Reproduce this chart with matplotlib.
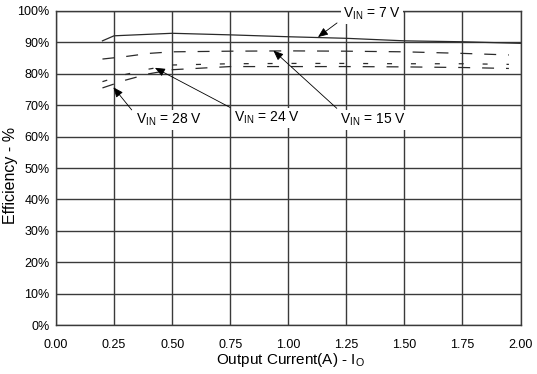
import matplotlib
matplotlib.use("Agg")
import matplotlib.pyplot as plt
from matplotlib.ticker import FuncFormatter

plt.rcParams['font.family'] = ['Liberation Sans', 'DejaVu Sans']
plt.rcParams['mathtext.fontset'] = 'custom'
plt.rcParams['mathtext.rm'] = 'Liberation Sans'
plt.rcParams['mathtext.it'] = 'Liberation Sans'
plt.rcParams['lines.scale_dashes'] = False

# efficiency curves (output current in A, efficiency in %)
i_7v = [0.20, 0.25, 0.50, 0.75, 1.00, 1.25, 1.50, 1.75, 2.00]
eff_7v = [90.5, 92.1, 92.9, 92.4, 91.8, 91.3, 90.5, 90.2, 89.7]

i_dash = [0.20, 0.30, 0.40, 0.50, 0.75, 1.00, 1.25, 1.50, 1.75, 1.95]
eff_15v = [84.7, 85.5, 86.5, 87.0, 87.2, 87.3, 87.2, 87.0, 86.5, 86.0]
eff_24v = [77.5, 79.8, 81.5, 82.8, 83.2, 83.3, 83.3, 83.2, 83.2, 83.0]
eff_28v = [75.5, 78.0, 80.0, 81.3, 82.3, 82.3, 82.3, 82.2, 82.0, 81.7]

x_ticks = [0.0, 0.25, 0.5, 0.75, 1.0, 1.25, 1.5, 1.75, 2.0]
y_ticks = [0, 10, 20, 30, 40, 50, 60, 70, 80, 90, 100]

fig = plt.figure(figsize=(5.37, 3.74), dpi=100)
ax = fig.add_axes([0.1043, 0.131, 0.865, 0.8396])

ax.plot(i_7v, eff_7v, color="#2a2a2a", lw=0.9)
ax.plot(i_dash, eff_15v, color="#2a2a2a", lw=0.9, dashes=(8.6, 8.6))
ax.plot(i_dash, eff_24v, color="#2a2a2a", lw=0.9, dashes=(3.6, 13.6))
ax.plot(i_dash, eff_28v, color="#2a2a2a", lw=0.9, dashes=(8.6, 8.6))

ax.set_xlim(0, 2)
ax.set_ylim(0, 100)
ax.set_xticks(x_ticks)
ax.set_yticks(y_ticks)
ax.xaxis.set_major_formatter(FuncFormatter(lambda v, p: "%.2f" % v))
ax.yaxis.set_major_formatter(FuncFormatter(lambda v, p: "%d%%" % v))
ax.tick_params(length=0, labelsize=9, colors="black")
ax.tick_params(axis="x", pad=10)
ax.tick_params(axis="y", pad=4.5)
ax.grid(True, color="#3a3a3a", lw=1.0)
for s in ax.spines.values():
    s.set_color("#3a3a3a")
    s.set_linewidth(1.0)

ax.set_xlabel("Output Current(A) - I$_\\mathrm{O}$", fontsize=11)
ax.set_ylabel("Efficiency - %", fontsize=11.5)
ax.yaxis.set_label_coords(-0.0818, 0.476)
ax.xaxis.set_label_coords(0.504, -0.083)

box = dict(facecolor="white", edgecolor="none", pad=1.5)
arrow = dict(arrowstyle="-|>,head_length=0.6,head_width=0.25", color="black",
             lw=0.6, shrinkA=0, shrinkB=0)

labels = [
    ("V$_\\mathrm{IN}$ = 7 V", (1.36, 99.0), (1.21, 96.2), (1.128, 91.7)),
    ("V$_\\mathrm{IN}$ = 28 V", (0.487, 65.3), (0.326, 68.5), (0.247, 75.7)),
    ("V$_\\mathrm{IN}$ = 24 V", (0.909, 65.9), (0.749, 69.3), (0.426, 81.9)),
    ("V$_\\mathrm{IN}$ = 15 V", (1.365, 65.3), (1.209, 69.0), (0.936, 87.4)),
]
for txt, pos, start, tip in labels:
    ax.text(pos[0], pos[1], txt, fontsize=10, ha="center", va="center",
            bbox=box, zorder=5, clip_on=False)
    ax.annotate("", xy=tip, xytext=start, arrowprops=arrow, zorder=6)

fig.savefig("out.png", dpi=100)
